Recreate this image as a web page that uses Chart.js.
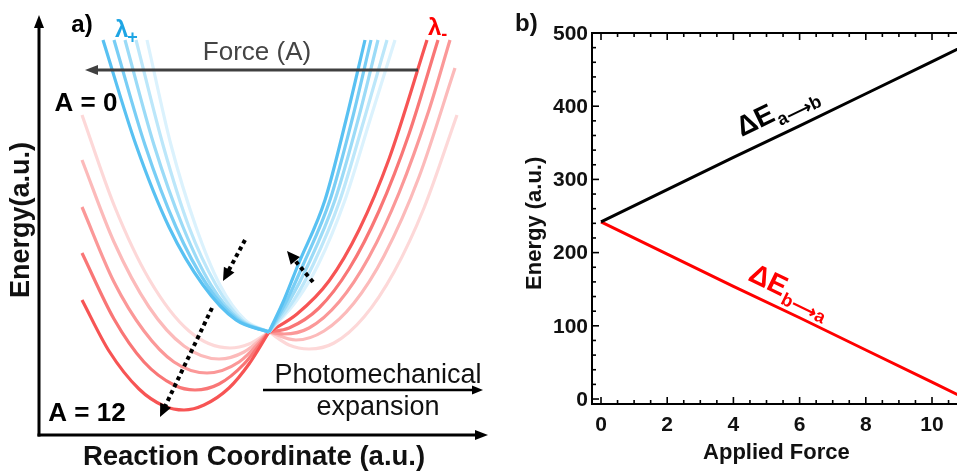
<!DOCTYPE html>
<html><head><meta charset="utf-8">
<script src="https://cdn.jsdelivr.net/npm/chart.js@4.4.0/dist/chart.umd.min.js"></script>
<style>
html,body{margin:0;padding:0;background:#fff;overflow:hidden;width:957px;height:471px}
#ca{position:absolute;left:0;top:0}
#cb{position:absolute;left:500px;top:0}
</style></head><body>
<canvas id="ca" width="500" height="471"></canvas>
<canvas id="cb" width="457" height="471"></canvas>
<script>
// ---------- Panel a: schematic potential-energy curves (reaction coordinate, energy in a.u.) ----------
const bluePlusLeft = [
  [[64,395],[97,290],[130,208],[164,150],[197,115],[230,103]],
  [[75,395],[106,290],[137,208],[168,150],[199,115],[230,103]],
  [[86,395],[115,290],[144,208],[172,150],[201,115],[230,103]],
  [[97,395],[124,290],[150,208],[177,150],[203,115],[230,103]],
  [[108,395],[132,290],[157,208],[181,150],[206,115],[230,103]]
];
const bluePlusRight = [
  [[230,103],[245,135],[259,170],[286,235],[307,315],[326,395]],
  [[230,103],[248,135],[264,170],[291,235],[313,315],[332,395]],
  [[230,103],[251,135],[269,170],[296,235],[319,315],[339,395]],
  [[230,103],[255,135],[274,170],[301,235],[325,315],[348,395]],
  [[230,103],[258,135],[279,170],[306,235],[331,315],[356,395]]
];
const redMinusLeft = [
  [[43,135],[70,84],[100,46],[125,29],[145,25],[165,30],[190,47],[210,71],[230,103]],
  [[43,182],[75,116],[105,73],[135,50],[156,45],[180,51],[205,71],[230,103]],
  [[43,228],[75,153],[105,104],[135,73],[168,62],[200,73],[230,103]],
  [[43,275],[75,193],[110,128],[145,89],[180,76],[205,83],[230,103]],
  [[43,320],[75,230],[110,156],[150,104],[191,87],[210,91],[230,103]]
];
const redMinusRight = [
  [[230,103],[258,121],[290,154],[320,205],[350,276],[388,395]],
  [[230,103],[250,107],[280,127],[310,166],[340,224],[370,301],[399,395]],
  [[230,103],[245,101],[270,107],[300,133],[330,178],[360,242],[390,325],[411,395]],
  [[230,103],[257,95],[285,104],[315,132],[345,179],[380,258],[416,367]],
  [[230,103],[250,90],[270,86],[295,92],[325,118],[355,163],[385,227],[418,320]]
];

// ---------- Panel b: energy vs applied force ----------
const appliedForce = [0, 2, 4, 6, 8, 10, 11];
const energyAtoB   = [242, 286, 330, 373, 417, 461, 483];
const energyBtoA   = [242, 198, 154, 111, 67, 23, 1];
const yTickLabelsB = [0, 100, 200, 300, 400, 500];
const xTickLabelsB = [0, 2, 4, 6, 8, 10];

// ---------- styles ----------
const FONT = '"Liberation Sans", Arial, Helvetica, sans-serif';
const blueShades = ['rgb(88,193,242)','rgb(121,206,245)','rgb(155,219,247)','rgb(188,231,250)','rgb(219,242,253)'];
const redShades  = ['rgb(247,84,84)','rgb(249,118,118)','rgb(251,152,152)','rgb(252,186,186)','rgb(253,216,216)'];

function curve(pts, color, order){
  return {data: pts.map(p => ({x:p[0], y:p[1]})), borderColor: color, borderWidth: 3.2,
          pointRadius: 0, showLine: true, fill: false, cubicInterpolationMode: 'monotone', order: order};
}
const dsA = [];
bluePlusLeft.forEach((c,i)=>dsA.push(curve(c, blueShades[i], i)));
bluePlusRight.forEach((c,i)=>dsA.push(curve(c, blueShades[i], i)));
redMinusLeft.forEach((c,i)=>dsA.push(curve(c, redShades[i], 10+i)));
redMinusRight.forEach((c,i)=>dsA.push(curve(c, redShades[i], 10+i)));

function arrowHead(ctx, x1, y1, x2, y2, len, w){
  const a = Math.atan2(y2-y1, x2-x1), c = Math.cos(a), s = Math.sin(a);
  ctx.beginPath();
  ctx.moveTo(x2, y2);
  ctx.lineTo(x2 - len*c + w/2*s, y2 - len*s - w/2*c);
  ctx.lineTo(x2 - len*c - w/2*s, y2 - len*s + w/2*c);
  ctx.closePath(); ctx.fill();
}
function arrow(ctx, x1, y1, x2, y2, opt){
  const a = Math.atan2(y2-y1, x2-x1);
  ctx.save();
  ctx.strokeStyle = opt.color; ctx.fillStyle = opt.color; ctx.lineWidth = opt.lw;
  if (opt.dash) ctx.setLineDash(opt.dash);
  ctx.beginPath(); ctx.moveTo(x1, y1);
  ctx.lineTo(x2 - (opt.len-1)*Math.cos(a), y2 - (opt.len-1)*Math.sin(a)); ctx.stroke();
  ctx.setLineDash([]);
  arrowHead(ctx, x1, y1, x2, y2, opt.len, opt.w);
  ctx.restore();
}

const annotA = {
  forceArrow: [[379,365],[46,365]],
  photoArrow: [[224,45],[444,45]],
  dotted: [ [[206,195],[184,154]], [[274,153],[248,184]], [[173,127],[121,18]] ],
  texts: [
    {t:'a)', x:43, y:410, font:'bold 24px', color:'#000'},
    {t:'Force (A)', x:218, y:382, font:'26px', color:'#444'},
    {t:'A = 0', x:47, y:331, font:'bold 26px', color:'#000'},
    {t:'A = 12', x:48, y:21, font:'bold 26px', color:'#000'},
    {t:'Photomechanical', x:339, y:59, font:'27px', color:'#111'},
    {t:'expansion', x:339, y:27, font:'27px', color:'#111'},
    {t:'Reaction Coordinate (a.u.)', x:215, y:-22, font:'bold 27.5px', color:'#111'}
  ],
  yTitle: {t:'Energy(a.u.)', x:-17, y:215, font:'bold 27px'},
  lamPlus: {x:76, y:398}, lamMinus: {x:389, y:400}
};

const plugA = {
  id: 'plugA',
  afterDatasetsDraw(chart){
    const ctx = chart.ctx, xs = chart.scales.x, ys = chart.scales.y;
    const P = (x,y) => [xs.getPixelForValue(x), ys.getPixelForValue(y)];
    const o = P(0,0), top = P(0,420), right = P(449,0);
    arrow(ctx, o[0], o[1]+1.5, top[0], top[1], {color:'#000', lw:3, len:13, w:10});
    arrow(ctx, o[0]-1.5, o[1], right[0], right[1], {color:'#000', lw:3, len:13, w:10});
    let a = P(...annotA.forceArrow[0]), b = P(...annotA.forceArrow[1]);
    arrow(ctx, a[0], a[1], b[0], b[1], {color:'#404040', lw:3, len:13, w:10});
    a = P(...annotA.photoArrow[0]); b = P(...annotA.photoArrow[1]);
    arrow(ctx, a[0], a[1], b[0], b[1], {color:'#000', lw:2.5, len:11, w:9});
    annotA.dotted.forEach(d => {
      const p = P(...d[0]), q = P(...d[1]);
      arrow(ctx, p[0], p[1], q[0], q[1], {color:'#000', lw:4, len:13, w:12, dash:[4,3.6]});
    });
    ctx.save();
    ctx.textAlign = 'center'; ctx.textBaseline = 'middle';
    annotA.texts.forEach(t => {
      const p = P(t.x, t.y);
      ctx.font = t.font + ' ' + FONT; ctx.fillStyle = t.color;
      ctx.fillText(t.t, p[0], p[1]);
    });
    const yt = P(annotA.yTitle.x, annotA.yTitle.y);
    ctx.translate(yt[0], yt[1]); ctx.rotate(-Math.PI/2);
    ctx.font = annotA.yTitle.font + ' ' + FONT; ctx.fillStyle = '#111';
    ctx.fillText(annotA.yTitle.t, 0, 0);
    ctx.restore();
    ctx.save();
    ctx.textAlign = 'left'; ctx.textBaseline = 'alphabetic';
    let p = P(annotA.lamPlus.x, annotA.lamPlus.y);
    ctx.fillStyle = 'rgb(30,165,228)';
    ctx.font = 'bold 24px ' + FONT; ctx.fillText('λ', p[0], p[1]);
    let w = ctx.measureText('λ').width;
    ctx.font = 'bold 18px ' + FONT; ctx.fillText('+', p[0]+w-1, p[1]+6);
    p = P(annotA.lamMinus.x, annotA.lamMinus.y);
    ctx.fillStyle = 'rgb(255,0,0)';
    ctx.font = 'bold 24px ' + FONT; ctx.fillText('λ', p[0], p[1]);
    w = ctx.measureText('λ').width;
    ctx.font = 'bold 18px ' + FONT; ctx.fillText('-', p[0]+w, p[1]+5);
    ctx.restore();
  }
};

new Chart(document.getElementById('ca'), {
  type: 'scatter',
  data: {datasets: dsA},
  options: {
    responsive: false, animation: false,
    layout: {padding: {left:39, right:11, top:15, bottom:36}},
    plugins: {legend: {display:false}, tooltip: {enabled:false}},
    scales: {
      x: {type:'linear', min:0, max:450, display:false},
      y: {type:'linear', min:0, max:420, display:false}
    }
  },
  plugins: [plugA]
});

// ---------- Panel b chart ----------
const plugB = {
  id: 'plugB',
  afterDatasetsDraw(chart){
    const ctx = chart.ctx, xs = chart.scales.x, ys = chart.scales.y, ca = chart.chartArea;
    ctx.save();
    ctx.strokeStyle = '#000'; ctx.lineWidth = 2;
    ctx.beginPath();
    ctx.moveTo(ca.right+2, ca.top); ctx.lineTo(ca.left, ca.top); ctx.lineTo(ca.left, ca.bottom); ctx.lineTo(ca.right+2, ca.bottom);
    ctx.stroke();
    ctx.lineWidth = 1.6;
    for (let v = 0; v <= 500; v += 20) {
      const y = ys.getPixelForValue(v), L = (v % 100 === 0) ? 7 : 4;
      ctx.beginPath(); ctx.moveTo(ca.left, y); ctx.lineTo(ca.left + L, y); ctx.stroke();
    }
    for (let v = 0; v <= 11; v += 0.5) {
      const x = xs.getPixelForValue(v); if (x > ca.right) break;
      const L = (Math.abs(v % 2) < 1e-9) ? 7 : 4;
      ctx.beginPath(); ctx.moveTo(x, ca.bottom); ctx.lineTo(x, ca.bottom - L); ctx.stroke();
      ctx.beginPath(); ctx.moveTo(x, ca.top); ctx.lineTo(x, ca.top + L); ctx.stroke();
    }
    ctx.fillStyle = '#111';
    ctx.font = 'bold 21px ' + FONT;
    ctx.textAlign = 'right'; ctx.textBaseline = 'middle';
    yTickLabelsB.forEach(v => ctx.fillText(String(v), ca.left - 4, ys.getPixelForValue(v) + 1));
    ctx.textAlign = 'center'; ctx.textBaseline = 'top';
    xTickLabelsB.forEach(v => ctx.fillText(String(v), xs.getPixelForValue(v), ca.bottom + 11));
    ctx.font = 'bold 22px ' + FONT; ctx.textBaseline = 'middle';
    ctx.fillText('Applied Force', xs.getPixelForValue(5.3), ca.bottom + 49);
    ctx.save();
    ctx.translate(ca.left - 57, ys.getPixelForValue(240));
    ctx.rotate(-Math.PI/2);
    ctx.fillText('Energy (a.u.)', 0, 0);
    ctx.restore();
    ctx.font = 'bold 24px ' + FONT; ctx.textAlign = 'left'; ctx.textBaseline = 'middle';
    ctx.fillText('b)', ca.left - 77, ca.top - 9);
    const ang = (arr) => {
      const x0 = xs.getPixelForValue(appliedForce[0]), y0 = ys.getPixelForValue(arr[0]);
      const x1 = xs.getPixelForValue(appliedForce[5]), y1 = ys.getPixelForValue(arr[5]);
      return Math.atan2(y1 - y0, x1 - x0);
    };
    const lab = (fx, ey, angle, color, sub) => {
      ctx.save();
      ctx.translate(xs.getPixelForValue(fx), ys.getPixelForValue(ey));
      ctx.rotate(angle);
      ctx.fillStyle = color; ctx.textAlign = 'left'; ctx.textBaseline = 'alphabetic';
      ctx.font = 'bold 28px ' + FONT; ctx.fillText('ΔE', 0, 0);
      const w = ctx.measureText('ΔE').width;
      ctx.font = 'bold 18px ' + FONT; ctx.fillText(sub, w + 1, 7);
      ctx.restore();
    };
    lab(4.25, 358, ang(energyAtoB), '#000', 'a⟶b');
    lab(4.41, 163, ang(energyBtoA), 'rgb(255,0,0)', 'b⟶a');
    ctx.restore();
  }
};

new Chart(document.getElementById('cb'), {
  type: 'scatter',
  data: {datasets: [
    {data: appliedForce.map((f,i)=>({x:f, y:energyAtoB[i]})), borderColor:'#000', borderWidth:3, showLine:true, pointRadius:0},
    {data: appliedForce.map((f,i)=>({x:f, y:energyBtoA[i]})), borderColor:'rgb(255,0,0)', borderWidth:3, showLine:true, pointRadius:0}
  ]},
  options: {
    responsive: false, animation: false,
    layout: {padding: {left:92, right:0, top:33, bottom:67}},
    plugins: {legend: {display:false}, tooltip: {enabled:false}},
    scales: {
      x: {type:'linear', min:-0.272, max:10.755, display:false},
      y: {type:'linear', min:-6.8, max:500, display:false}
    }
  },
  plugins: [plugB]
});
</script>
</body></html>
